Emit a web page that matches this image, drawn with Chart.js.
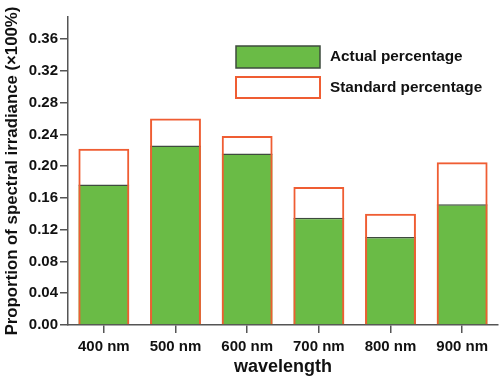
<!DOCTYPE html>
<html lang="en">
<head>
    <meta charset="UTF-8">
    <title>Proportion of spectral irradiance</title>
    <style>
        html, body { margin: 0; padding: 0; background: #fff; }
        #wrap { width: 500px; height: 378px; }
    </style>
</head>
<body>
    <div id="wrap"><canvas id="chart" width="500" height="378"></canvas></div>

    <script src="https://cdn.jsdelivr.net/npm/chart.js"></script>
    <script>
        // data
        const wavelengths = ['400 nm', '500 nm', '600 nm', '700 nm', '800 nm', '900 nm'];
        const actualPct = [0.177, 0.226, 0.216, 0.135, 0.111, 0.152];
        const standardPct = [0.222, 0.260, 0.238, 0.174, 0.140, 0.205];
        const yTicks = [0, 0.04, 0.08, 0.12, 0.16, 0.20, 0.24, 0.28, 0.32, 0.36];

        const green = '#6abb46';
        const greenEdge = '#3e4b3e';
        const orange = '#ef5d33';
        const axisColor = '#555';
        const fontFamily = "'Liberation Sans', Arial, sans-serif";

        // legend drawn inside the plot, top right, two rows
        const boxLegend = {
            id: 'boxLegend',
            afterDraw(chart) {
                const ctx = chart.ctx;
                const area = chart.chartArea;
                const x = area.left + 168;
                const rows = [
                    { y: area.top + 29, h: 22, fill: green, stroke: greenEdge, lw: 1.5 },
                    { y: area.top + 60, h: 21, fill: '#fff', stroke: orange, lw: 2 }
                ];
                ctx.save();
                ctx.font = 'bold 15.3px ' + fontFamily;
                ctx.textBaseline = 'middle';
                chart.data.datasets.forEach((ds, i) => {
                    const r = rows[i];
                    ctx.fillStyle = r.fill;
                    ctx.fillRect(x, r.y, 84, r.h);
                    ctx.lineWidth = r.lw;
                    ctx.strokeStyle = r.stroke;
                    ctx.strokeRect(x, r.y, 84, r.h);
                    ctx.fillStyle = '#111';
                    ctx.fillText(ds.label, x + 94, r.y + r.h / 2);
                });
                ctx.restore();
            }
        };

        new Chart(document.getElementById('chart'), {
            type: 'bar',
            data: {
                labels: wavelengths,
                datasets: [
                    {
                        label: 'Actual percentage',
                        data: actualPct,
                        backgroundColor: green,
                        borderColor: greenEdge,
                        borderWidth: { top: 1.5, left: 0, right: 0, bottom: 0 },
                        borderSkipped: 'bottom',
                        order: 2
                    },
                    {
                        label: 'Standard percentage',
                        data: standardPct,
                        backgroundColor: 'rgba(255,255,255,0)',
                        borderColor: orange,
                        borderWidth: 2,
                        borderSkipped: 'bottom',
                        order: 1
                    }
                ]
            },
            options: {
                responsive: false,
                animation: false,
                devicePixelRatio: 1,
                grouped: false,
                categoryPercentage: 1,
                barPercentage: 0.71,
                layout: { padding: { top: 17, right: 2, left: 0, bottom: 0 } },
                plugins: {
                    legend: { display: false },
                    tooltip: { enabled: false }
                },
                scales: {
                    x: {
                        offset: true,
                        grid: {
                            offset: false,
                            drawOnChartArea: false,
                            drawTicks: true,
                            tickLength: 8,
                            color: axisColor,
                            lineWidth: 1.5
                        },
                        border: { color: axisColor, width: 1.5 },
                        ticks: {
                            color: '#111',
                            padding: 5,
                            font: { family: fontFamily, size: 15, weight: 'bold' }
                        },
                        title: {
                            display: true,
                            text: 'wavelength',
                            color: '#111',
                            padding: { top: 0, bottom: 0 },
                            font: { family: fontFamily, size: 18, weight: 'bold' }
                        },
                        afterFit(scale) {
                            scale.height = 53;
                            scale.paddingLeft = 0;
                            scale.paddingRight = 0;
                        }
                    },
                    y: {
                        min: 0,
                        max: 0.388,
                        afterBuildTicks(scale) {
                            scale.ticks = yTicks.map(v => ({ value: v }));
                        },
                        grid: {
                            drawOnChartArea: false,
                            drawTicks: true,
                            tickLength: 8,
                            color: axisColor,
                            lineWidth: 1.5
                        },
                        border: { color: axisColor, width: 1.5 },
                        ticks: {
                            color: '#111',
                            padding: 2,
                            font: { family: fontFamily, size: 15, weight: 'bold' },
                            callback: v => Number(v).toFixed(2)
                        },
                        title: {
                            display: true,
                            text: 'Proportion of spectral irradiance (×100%)',
                            color: '#111',
                            padding: { top: 2, bottom: 0 },
                            font: { family: fontFamily, size: 16.8, weight: 'bold' }
                        },
                        afterFit(scale) {
                            scale.width = 68;
                            scale.paddingTop = 0;
                            scale.paddingBottom = 0;
                        }
                    }
                }
            },
            plugins: [boxLegend]
        });
    </script>
</body>
</html>
